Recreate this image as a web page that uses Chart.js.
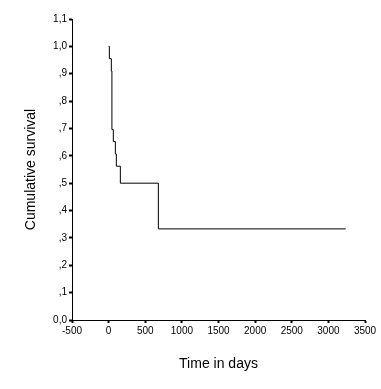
<!DOCTYPE html>
<html>
<head>
<meta charset="utf-8">
<script src="https://cdn.jsdelivr.net/npm/chart.js@4"></script>
<style>
  html, body { margin: 0; padding: 0; background: #fff; }
  #wrap { width: 381px; height: 389px; }
</style>
</head>
<body>
<div id="wrap"><canvas id="km" width="381" height="389"></canvas></div>
<script>
// survival steps
const times    = [0, 10, 37, 45, 64, 92, 105, 160, 679, 3237];
const survival = [1.0, 0.955, 0.91, 0.696, 0.652, 0.607, 0.562, 0.5, 0.333, 0.333];

const xTickLabels = ['-500', '0', '500', '1000', '1500', '2000', '2500', '3000', '3500'];
const yTickLabels = ['0,0', ',1', ',2', ',3', ',4', ',5', ',6', ',7', ',8', ',9', '1,0', '1,1'];

const points = times.map((t, i) => ({ x: t, y: survival[i] }));

const tickFont = { family: 'Liberation Sans, Arial, sans-serif', size: 10 };
const titleFont = { family: 'Liberation Sans, Arial, sans-serif', size: 14 };

new Chart(document.getElementById('km'), {
    type: 'line',
    data: {
        datasets: [{
            data: points,
            stepped: 'before', // horizontal first, then the drop
            borderColor: '#000',
            borderWidth: 1,
            pointRadius: 0,
            fill: false
        }]
    },
    options: {
        responsive: false,
        animation: false,
        devicePixelRatio: 1,
        layout: { padding: { left: 0, right: 16, top: 19, bottom: 0 } },
        plugins: { legend: { display: false }, tooltip: { enabled: false } },
        scales: {
            x: {
                type: 'linear',
                min: -500,
                max: 3500,
                ticks: {
                    stepSize: 500, color: '#000', font: tickFont, padding: 2, maxRotation: 0,
                    callback: (v, i) => xTickLabels[i]
                },
                grid: { drawOnChartArea: false, tickLength: 3, tickColor: '#000', tickWidth: 2 },
                border: { color: '#000', width: 1 },
                title: { display: true, text: 'Time in days', color: '#000', font: titleFont, padding: { bottom: 16 } },
                afterFit: s => { s.height = 69; }
            },
            y: {
                min: 0,
                max: 1.1,
                ticks: {
                    stepSize: 0.1,
                    color: '#000',
                    font: tickFont,
                    padding: 2,
                    callback: (v, i) => yTickLabels[i]
                },
                grid: { drawOnChartArea: false, tickLength: 3, tickColor: '#000', tickWidth: 2 },
                border: { color: '#000', width: 1 },
                title: { display: true, text: 'Cumulative survival', color: '#000', font: titleFont, padding: { top: 23 } },
                afterFit: s => { s.width = 72; }
            }
        }
    }
});
</script>
</body>
</html>
